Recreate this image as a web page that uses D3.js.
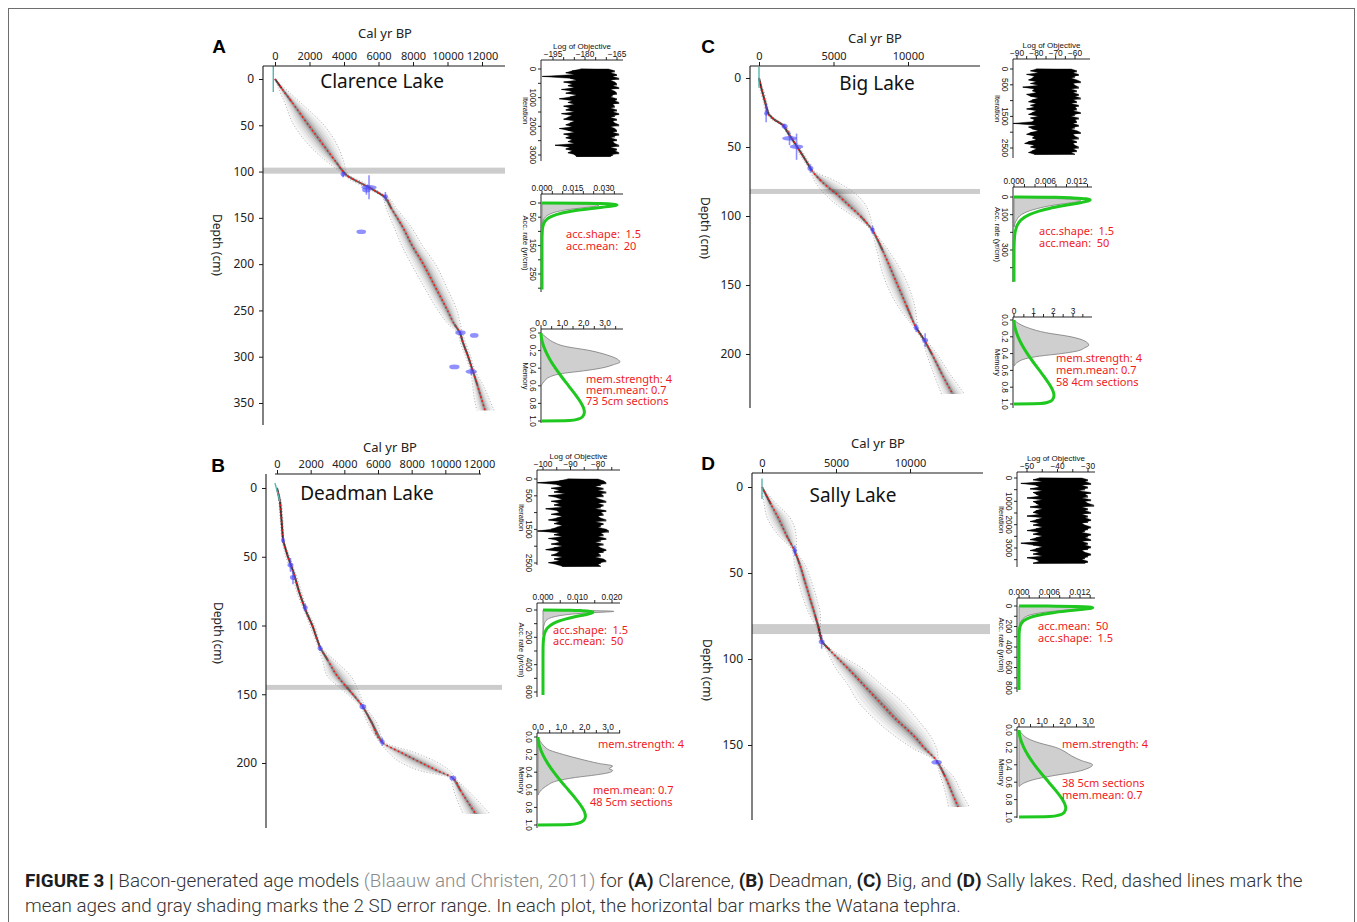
<!DOCTYPE html>
<html><head><meta charset="utf-8">
<script src="https://cdn.jsdelivr.net/npm/d3@7"></script>
<style>body{margin:0;background:#fff}svg{display:block}</style>
</head><body>
<script>
// ================= DATA =================
const lakeTitles = ["Clarence Lake","Deadman Lake","Big Lake","Sally Lake"];
const panelLetters = ["A","B","C","D"];

// --- age-depth models: depth (cm), mean age, 95% lower / upper (cal yr BP)
const depthA = [0,10,25,50,75,90,100,104,110,117,122,127,140,160,180,200,225,250,265,274,285,300,316,330,345,358];
const meanA  = [0,380,980,1950,2950,3550,3950,4150,4700,5450,5900,6350,6750,7400,7950,8600,9300,10000,10400,10720,10900,11200,11480,11720,11960,12180];
const loA    = [0,200,550,1100,2150,3050,3750,4000,4450,5250,5750,6200,6450,6900,7350,7900,8650,9450,10050,10580,10750,11050,11340,11450,11550,11700];
const hiA    = [0,580,1450,2850,3700,4000,4150,4300,4950,5650,6050,6500,7050,7900,8550,9300,9950,10550,10750,10870,11050,11350,11620,12050,12400,12700];

const depthB = [0,10,25,38,50,62,75,89,100,116,125,137,145,159,170,185,192,200,206,211,220,237];
const meanB  = [0,180,280,360,650,1000,1300,1700,2100,2560,3000,3600,4150,5100,5600,6250,7300,8600,9600,10450,10900,11800];
const loB    = [0,100,200,300,520,900,1150,1600,1950,2450,2700,3000,3700,4950,5350,6100,6600,7400,8600,10300,10500,11050];
const hiB    = [0,260,360,420,760,1100,1450,1800,2250,2650,3400,4400,4750,5250,5900,6400,8100,9600,10300,10600,11350,12650];

const depthC = [0,7,17,26,30,34,42,48,53,60,67,75,85,95,100,110,125,145,165,181,190,200,215,229];
const meanC  = [0,150,400,630,1000,1600,2080,2450,2750,3150,3540,4200,5300,6300,6800,7600,8300,9100,9900,10550,11100,11600,12300,13000];
const loC    = [0,50,280,520,850,1480,1950,2300,2600,3000,3420,3750,4500,5600,6300,7480,7900,8400,9300,10400,10950,11250,11750,12250];
const hiC    = [0,250,520,740,1150,1720,2200,2600,2900,3300,3660,5200,6600,7300,7450,7720,8700,9800,10450,10700,11250,11950,12850,13800];

const depthD = [0,10,18,28,37,45,55,65,75,81,90,95,105,115,125,135,145,152,159,168,178,186];
const meanD  = [0,600,1100,1650,2200,2550,2900,3250,3600,3800,4050,4600,5750,6850,7950,9050,10300,11000,11800,12350,12850,13250];
const loD    = [0,150,350,1100,2050,2200,2450,2800,3250,3650,3950,4350,4950,5800,6500,7600,9000,10200,11650,12050,12400,12600];
const hiD    = [0,1000,1900,2300,2350,2900,3350,3700,3950,3950,4150,4800,6700,8100,9500,10500,11400,11800,11950,12900,13500,14000];

// --- dated levels: depth, calibrated age, age spread, depth spread
const dateDepthA = [103,117,120,127,165,274,277,311,316];
const dateAgeA   = [3950,5450,5300,6400,5000,10750,11550,10400,11380];
const dateAgeErrA= [150,450,250,150,280,300,250,300,330];
const dateDepErrA= [3,13,5,5,0,2,0,0,4];

const dateDepthB = [38,56,65,87,116.6,159,184.5,211];
const dateAgeB   = [360,800,950,1680,2560,5100,6250,10450];
const dateAgeErrB= [100,180,180,150,150,200,150,200];
const dateDepErrB= [2,5,5,3,2,2,3,1];

const dateDepthC = [25.6,35,43.7,49.8,65.5,110,181,190];
const dateAgeC   = [480,1720,2050,2520,3450,7620,10550,11150];
const dateAgeErrC= [120,200,500,450,200,150,170,200];
const dateDepErrC= [6.5,2,5,9.5,3,3,3,5];

const dateDepthD = [37,90,160];
const dateAgeD   = [2220,4030,11800];
const dateAgeErrD= [150,200,350];
const dateDepErrD= [3,4,1];

// --- surface (core top) marks: ages and depths of the short cyan segment
const surfAgeA=[-100,-100], surfDepthA=[-14,14];
const surfAgeB=[-120,180],  surfDepthB=[-3.5,10];
const surfAgeC=[0,0],       surfDepthC=[-8,7];
const surfAgeD=[0,0],       surfDepthD=[-5,7];

// --- Watana tephra depth (cm) and thickness (cm)
const tephraDepth = [99,145,82.2,82.6];
const tephraThick = [6.5,3.6,3.6,5.8];

// --- axis ticks (main plots)
const ageTicksAB = [0,2000,4000,6000,8000,10000,12000];
const ageTicksCD = [0,5000,10000];
const depthTicksA = [0,50,100,150,200,250,300,350];
const depthTicksB = [0,50,100,150,200];
const depthTicksC = [0,50,100,150,200];
const depthTicksD = [0,50,100,150];

// --- MCMC traces: left/right envelope of log objective along the iterations
const traceLoA = [-182,-186,-189,-185,-200,-187,-184,-190,-186,-188,-185,-191,-186,-189,-184,-187,-192,-186,-188,-185,-190,-187,-189,-185,-191,-186,-188,-190,-185,-187,-189,-186,-192,-188,-185,-190,-187,-189,-186,-188,-185,-194,-187,-189,-186,-188,-185,-184];
const traceHiA = [-169,-166,-168,-165,-167,-164,-168,-166,-165,-167,-164,-168,-166,-165,-167,-168,-165,-166,-164,-167,-166,-168,-165,-167,-164,-166,-168,-165,-167,-166,-164,-168,-166,-165,-167,-164,-166,-168,-165,-167,-166,-164,-168,-165,-166,-164,-167,-168];
const traceLoB = [-91,-94,-102,-95,-93,-97,-94,-96,-92,-98,-95,-93,-97,-94,-96,-93,-99,-95,-94,-97,-93,-95,-98,-94,-96,-93,-95,-97,-102,-94,-96,-93,-98,-95,-94,-97,-93,-96,-99,-94,-95,-97,-93,-96,-94,-98,-95,-93];
const traceHiB = [-80,-78,-77,-79,-81,-78,-80,-77,-79,-78,-81,-79,-77,-80,-78,-79,-81,-77,-79,-78,-80,-79,-77,-81,-78,-79,-80,-77,-76,-79,-78,-80,-77,-79,-81,-78,-80,-79,-77,-78,-80,-79,-81,-78,-77,-79,-80,-79];
const traceLoC = [-80,-83,-79,-85,-81,-82,-84,-80,-83,-79,-87,-81,-82,-80,-85,-83,-79,-82,-84,-80,-83,-81,-85,-80,-82,-84,-79,-83,-81,-82,-92,-80,-84,-82,-79,-83,-85,-81,-82,-80,-84,-86,-81,-83,-80,-82,-84,-81];
const traceHiC = [-62,-59,-61,-58,-60,-62,-59,-57,-61,-60,-58,-62,-59,-61,-58,-60,-57,-61,-59,-62,-58,-60,-59,-61,-57,-60,-62,-58,-60,-59,-61,-58,-60,-62,-59,-57,-61,-60,-58,-62,-59,-61,-60,-58,-61,-59,-62,-60];
const traceLoD = [-46,-48,-45,-52,-47,-46,-49,-45,-48,-47,-46,-50,-45,-48,-47,-46,-49,-45,-47,-48,-46,-50,-45,-47,-49,-46,-48,-45,-47,-50,-46,-48,-45,-47,-49,-46,-52,-48,-45,-47,-49,-46,-48,-45,-50,-47,-46,-48];
const traceHiD = [-32,-30,-31,-29,-32,-30,-31,-33,-29,-31,-30,-32,-29,-31,-30,-28,-32,-30,-31,-29,-32,-30,-31,-29,-30,-32,-31,-29,-30,-31,-32,-29,-30,-31,-29,-32,-30,-31,-29,-30,-32,-31,-29,-30,-31,-32,-30,-31];
const traceIterMax = [3050,2600,2700,3650];

// --- accumulation-rate prior (green) and posterior (grey)
const accPriorY20 = [0,1,2,4,6.67,10,15,20,25,30,40,50,60,70,85,100,130,160,200,250,305];
const accPriorD20 = [0,0.0215,0.0282,0.0343,0.0363,0.0346,0.0291,0.0231,0.0178,0.0134,0.0073,0.00385,0.0020,0.00102,0.00036,0.00013,0.00001,0,0,0,0];
const accPriorY50 = [0,1,2,5,10,16.67,25,35,50,65,80,100,130,160,200,250,300,400,480,622,820];
const accPriorD50 = [0,0.00569,0.00781,0.01128,0.01373,0.01451,0.01384,0.01213,0.00925,0.00672,0.00476,0.00292,0.00135,0.00061,0.00021,0.00005,0.00001,0,0,0,0];
const accPostYA = [0,2,4,7,10,15,20,25,30,40,50,60,75,90];
const accPostDA = [0,0.012,0.021,0.0275,0.027,0.022,0.016,0.011,0.0075,0.0035,0.0016,0.0007,0.0002,0];
const accPostYB = [0,3,6,10,15,20,30,40,50,70,100,140,180];
const accPostDB = [0,0.009,0.017,0.0205,0.018,0.014,0.0085,0.0052,0.0032,0.0012,0.0004,0.0001,0];
const accPostYC = [0,5,10,15,20,30,40,50,65,80,100,130,170];
const accPostDC = [0,0.0045,0.009,0.0118,0.0127,0.0115,0.009,0.0068,0.0045,0.0028,0.0014,0.0005,0];
const accPostYD = [0,5,10,15,20,30,40,60,80,100,150,200,260];
const accPostDD = [0,0.006,0.0105,0.0128,0.0133,0.0118,0.0092,0.0052,0.0028,0.0015,0.0004,0.0001,0];

// --- memory prior (green) and posteriors (grey)
const memPriorY = [0,0.05,0.1,0.2,0.3,0.4,0.5,0.6,0.7,0.8,0.85,0.9,0.95,0.98,0.995,1.0];
const memPriorD = [0,0.0176,0.0604,0.206,0.4155,0.676,0.974,1.294,1.612,1.890,1.991,2.034,1.952,1.719,1.339,0];
const memPostYA = [0,0.05,0.1,0.15,0.2,0.25,0.3,0.33,0.36,0.4,0.43,0.46,0.5,0.55,0.6];
const memPostDA = [0,0.25,0.55,1.1,2.3,3.1,3.6,3.7,3.4,2.8,2.0,1.0,0.4,0.15,0];
const memPostYB = [0,0.05,0.1,0.15,0.2,0.25,0.3,0.33,0.36,0.38,0.4,0.43,0.46,0.5,0.55,0.6,0.66];
const memPostDB = [0,0.1,0.25,0.5,1.1,1.8,2.6,3.2,3.05,3.2,3.1,2.5,1.6,0.8,0.4,0.15,0];
const memPostYC = [0,0.05,0.1,0.15,0.2,0.25,0.3,0.33,0.37,0.4,0.43,0.46,0.5,0.55];
const memPostDC = [0,0.3,0.8,1.6,2.9,3.6,3.8,3.6,3.2,2.4,1.3,0.6,0.2,0];
const memPostYD = [0,0.05,0.1,0.15,0.2,0.25,0.3,0.35,0.4,0.44,0.48,0.52,0.56,0.6,0.65];
const memPostDD = [0,0.15,0.4,0.9,1.6,2.0,2.3,2.7,3.2,3.0,2.5,1.6,0.8,0.3,0];

// --- side-plot ticks and labels
const traceXTicksA=[-195,-190,-185,-180,-175,-170,-165], traceXLabelsA=[-195,-180,-165];
const traceXTicksB=[-100,-95,-90,-85,-80,-75],          traceXLabelsB=[-100,-90,-80];
const traceXTicksC=[-90,-85,-80,-75,-70,-65,-60],        traceXLabelsC=[-90,-80,-70,-60];
const traceXTicksD=[-50,-45,-40,-35,-30],                traceXLabelsD=[-50,-40,-30];
const iterTicksA=[0,500,1000,1500,2000,2500,3000], iterLabelsA=[0,1000,2000,3000];
const iterTicksB=[0,500,1000,1500,2000,2500],      iterLabelsB=[0,500,1500,2500];
const iterTicksC=[0,500,1000,1500,2000,2500],      iterLabelsC=[0,500,1500,2500];
const iterTicksD=[0,500,1000,1500,2000,2500,3000,3500], iterLabelsD=[0,1000,2000,3000];
const accXTicksA=[0,0.005,0.01,0.015,0.02,0.025,0.03,0.035], accXLabelsA=[0,0.015,0.03];
const accXTicksB=[0,0.005,0.01,0.015,0.02],                  accXLabelsB=[0,0.01,0.02];
const accXTicksC=[0,0.002,0.004,0.006,0.008,0.01,0.012,0.014], accXLabelsC=[0,0.006,0.012];
const accXTicksD=[0,0.002,0.004,0.006,0.008,0.01,0.012,0.014], accXLabelsD=[0,0.006,0.012];
const accYTicksA=[0,50,100,150,200,250,300], accYLabelsA=[0,50,150,250];
const accYTicksB=[0,100,200,300,400,500,600], accYLabelsB=[0,200,400,600];
const accYTicksC=[0,100,200,300,400], accYLabelsC=[0,100,300];
const accYTicksD=[0,100,200,300,400,500,600,700,800], accYLabelsD=[0,200,400,600,800];
const memXTicks=[0,0.5,1,1.5,2,2.5,3,3.5], memXTicksD=[0,0.5,1,1.5,2,2.5,3], memXLabels=[0,1,2,3];
const memYTicks=[0,0.2,0.4,0.6,0.8,1.0];

// --- annotation texts
const accTextA=["acc.shape:  1.5","acc.mean:  20"];
const accTextB=["acc.shape:  1.5","acc.mean:  50"];
const accTextC=["acc.shape:  1.5","acc.mean:  50"];
const accTextD=["acc.mean:  50","acc.shape:  1.5"];
const memTextA=["mem.strength: 4","mem.mean: 0.7","73 5cm sections"];
const memTextB=["mem.strength: 4","mem.mean: 0.7","48 5cm sections"];
const memTextC=["mem.strength: 4","mem.mean: 0.7","58 4cm sections"];
const memTextD=["mem.strength: 4","38 5cm sections","mem.mean: 0.7"];

// ================= DRAWING =================
const svg = d3.select('body').append('svg').attr('width',1357).attr('height',922);
svg.append('rect').attr('width',1357).attr('height',922).attr('fill','#fff');
svg.append('rect').attr('x',8.5).attr('y',8.5).attr('width',1346).attr('height',940)
  .attr('fill','none').attr('stroke','#6e6e6e').attr('stroke-width',1);

const FONT = "'Noto Sans', 'Open Sans', sans-serif";
const SFONT = "'Liberation Sans', Arial, sans-serif";
const RED = '#f01c1c', GREEN = '#1ec81e', BLUE = '#4646ff';

const mains = [
 {i:0, letterXY:[219,46], titleXY:[382,81], calXY:[385,33], ylabXY:[217,245],
  xd:[0,12000], xr:[275,482], yd:[0,350], yr:[79,403], box:{l:263,t:66,b:425}, topLine:[263,505], tephraR:505,
  xTicks:ageTicksAB, yTicks:depthTicksA, depth:depthA, mean:meanA, lo:loA, hi:hiA,
  dd:dateDepthA, da:dateAgeA, dae:dateAgeErrA, dde:dateDepErrA, sa:surfAgeA, sd:surfDepthA},
 {i:1, letterXY:[218,465], titleXY:[367,493], calXY:[390,447], ylabXY:[218,633],
  xd:[0,12000], xr:[277,479], yd:[0,200], yr:[488,763], box:{l:266,t:474,b:828}, topLine:[275,481], tephraR:502,
  xTicks:ageTicksAB, yTicks:depthTicksB, depth:depthB, mean:meanB, lo:loB, hi:hiB,
  dd:dateDepthB, da:dateAgeB, dae:dateAgeErrB, dde:dateDepErrB, sa:surfAgeB, sd:surfDepthB},
 {i:2, letterXY:[708,46], titleXY:[877,83], calXY:[875,38], ylabXY:[705,228],
  xd:[0,10000], xr:[759,908], yd:[0,200], yr:[78,354], box:{l:750,t:66,b:408}, topLine:[750,980], tephraR:980,
  xTicks:ageTicksCD, yTicks:depthTicksC, depth:depthC, mean:meanC, lo:loC, hi:hiC,
  dd:dateDepthC, da:dateAgeC, dae:dateAgeErrC, dde:dateDepErrC, sa:surfAgeC, sd:surfDepthC},
 {i:3, letterXY:[708,463], titleXY:[853,495], calXY:[878,443], ylabXY:[707,670],
  xd:[0,10000], xr:[762,910], yd:[0,150], yr:[487,745], box:{l:752,t:473,b:820}, topLine:[752,983], tephraR:990,
  xTicks:ageTicksCD, yTicks:depthTicksD, depth:depthD, mean:meanD, lo:loD, hi:hiD,
  dd:dateDepthD, da:dateAgeD, dae:dateAgeErrD, dde:dateDepErrD, sa:surfAgeD, sd:surfDepthD}
];

function drawMain(L){
  const g = svg.append('g');
  const x = d3.scaleLinear().domain(L.xd).range(L.xr);
  const y = d3.scaleLinear().domain(L.yd).range(L.yr);
  const th = y(tephraThick[L.i]) - y(0);
  g.append('rect').attr('x',L.box.l).attr('y',y(tephraDepth[L.i])-th/2)
    .attr('width',L.tephraR-L.box.l).attr('height',th).attr('fill','#cccccc');
  const D = L.depth.map((d,k)=>({d, m:L.mean[k], lo:L.lo[k], hi:L.hi[k]}));
  const fr=[1,0.8,0.6,0.42,0.26,0.12], op=[0.035,0.045,0.06,0.08,0.12,0.2];
  fr.forEach((f,k)=>{
    g.append('path').datum(D)
      .attr('d', d3.area().curve(d3.curveMonotoneY).y(p=>y(p.d))
        .x0(p=>x(p.m - f*(p.m-p.lo))).x1(p=>x(p.m + f*(p.hi-p.m))))
      .attr('fill','#000').attr('fill-opacity',op[k]);
  });
  ['lo','hi'].forEach(k=>{
    g.append('path').datum(D)
      .attr('d', d3.line().curve(d3.curveMonotoneY).x(p=>x(p[k])).y(p=>y(p.d)))
      .attr('fill','none').attr('stroke','#8c8c8c').attr('stroke-width',0.7).attr('stroke-dasharray','1,2');
  });
  for(let k=0;k<D.length-1;k++){
    const w = ((x(D[k].hi)-x(D[k].lo))+(x(D[k+1].hi)-x(D[k+1].lo)))/2;
    const o = Math.max(0, 0.95 - w/16);
    if(o>0) g.append('line').attr('x1',x(D[k].m)).attr('y1',y(D[k].d)).attr('x2',x(D[k+1].m)).attr('y2',y(D[k+1].d))
      .attr('stroke','#111').attr('stroke-width',2).attr('stroke-opacity',o);
  }
  g.append('path').datum(D)
    .attr('d', d3.line().curve(d3.curveMonotoneY).x(p=>x(p.m)).y(p=>y(p.d)))
    .attr('fill','none').attr('stroke',RED).attr('stroke-width',1.7).attr('stroke-dasharray','1.6,2.6');
  g.append('line').attr('x1',x(L.sa[0])).attr('y1',y(L.sd[0])).attr('x2',x(L.sa[1])).attr('y2',y(L.sd[1]))
    .attr('stroke','#55b5b0').attr('stroke-width',1.4);
  L.dd.forEach((d,k)=>{
    const rx = Math.max(2, x(L.da[k]+L.dae[k]) - x(L.da[k]));
    g.append('ellipse').attr('cx',x(L.da[k])).attr('cy',y(d)).attr('rx',rx).attr('ry',2.3)
      .attr('fill',BLUE).attr('fill-opacity',0.6);
    if(L.dde[k]>0) g.append('line').attr('x1',x(L.da[k])).attr('x2',x(L.da[k]))
      .attr('y1',y(d-L.dde[k])).attr('y2',y(d+L.dde[k]))
      .attr('stroke',BLUE).attr('stroke-width',1.6).attr('stroke-opacity',0.6);
  });
  g.append('line').attr('x1',L.topLine[0]).attr('x2',L.topLine[1]).attr('y1',L.box.t).attr('y2',L.box.t)
    .attr('stroke','#1a1a1a').attr('stroke-width',1.1);
  g.append('line').attr('x1',L.box.l).attr('x2',L.box.l).attr('y1',L.box.t).attr('y2',L.box.b)
    .attr('stroke','#1a1a1a').attr('stroke-width',1.1);
  const ax = g.append('g').attr('transform',`translate(0,${L.box.t})`)
    .call(d3.axisTop(x).tickValues(L.xTicks).tickSize(4).tickPadding(2).tickFormat(d3.format('d')));
  ax.select('.domain').remove();
  ax.attr('font-family',FONT).attr('font-size',11);
  ax.selectAll('text').attr('fill','#222');
  ax.selectAll('line').attr('stroke','#1a1a1a');
  const ay = g.append('g').attr('transform',`translate(${L.box.l},0)`)
    .call(d3.axisLeft(y).tickValues(L.yTicks).tickSize(4).tickPadding(5).tickFormat(d3.format('d')));
  ay.select('.domain').remove();
  ay.attr('font-family',FONT).attr('font-size',12);
  ay.selectAll('text').attr('fill','#222');
  ay.selectAll('line').attr('stroke','#1a1a1a');
  g.append('text').attr('x',L.calXY[0]).attr('y',L.calXY[1]).attr('text-anchor','middle')
    .attr('dominant-baseline','central').attr('font-family',FONT).attr('font-size',13).attr('fill','#222').text('Cal yr BP');
  g.append('text').attr('x',L.titleXY[0]).attr('y',L.titleXY[1]).attr('text-anchor','middle')
    .attr('dominant-baseline','central').attr('font-family',FONT).attr('font-size',19).attr('fill','#111').text(lakeTitles[L.i]);
  g.append('text').attr('transform',`translate(${L.ylabXY[0]},${L.ylabXY[1]}) rotate(90)`).attr('text-anchor','middle')
    .attr('dominant-baseline','central').attr('font-family',FONT).attr('font-size',12).attr('fill','#222').text('Depth (cm)');
  g.append('text').attr('x',L.letterXY[0]).attr('y',L.letterXY[1]).attr('text-anchor','middle')
    .attr('dominant-baseline','central').attr('font-family',"'Liberation Sans', Arial, sans-serif")
    .attr('font-weight','bold').attr('font-size',19).attr('fill','#000').text(panelLetters[L.i]);
}
mains.forEach(drawMain);

// ---------- side plots ----------
function sideFrame(S, fmtX, fmtY, ylab, title){
  const g = svg.append('g');
  const x = d3.scaleLinear().domain(S.xd).range(S.xr);
  const y = d3.scaleLinear().domain(S.yd).range(S.yr);
  g.append('line').attr('x1',S.l).attr('x2',S.r).attr('y1',S.t).attr('y2',S.t).attr('stroke','#111').attr('stroke-width',0.9);
  g.append('line').attr('x1',S.l).attr('x2',S.l).attr('y1',S.t).attr('y2',S.b).attr('stroke','#111').attr('stroke-width',0.9);
  S.xTicks.forEach(v=>g.append('line').attr('x1',x(v)).attr('x2',x(v)).attr('y1',S.t).attr('y2',S.t-3).attr('stroke','#111').attr('stroke-width',0.9));
  S.xLabels.forEach(v=>g.append('text').attr('x',x(v)).attr('y',S.t-3.5).attr('text-anchor','middle')
    .attr('font-family',SFONT).attr('font-size',8.3).attr('fill','#111').text(fmtX(v)));
  S.yTicks.forEach(v=>g.append('line').attr('y1',y(v)).attr('y2',y(v)).attr('x1',S.l).attr('x2',S.l-3).attr('stroke','#111').attr('stroke-width',0.9));
  S.yLabels.forEach(v=>g.append('text').attr('transform',`translate(${S.l-8},${y(v)}) rotate(90)`).attr('text-anchor','middle')
    .attr('dominant-baseline','central').attr('font-family',SFONT).attr('font-size',8.3).attr('fill','#111').text(fmtY(v)));
  g.append('text').attr('transform',`translate(${S.l-16},${(S.t+S.b)/2}) rotate(90)`).attr('text-anchor','middle')
    .attr('dominant-baseline','central').attr('font-family',SFONT).attr('font-size',7.5).attr('fill','#111').text(ylab);
  if(title) g.append('text').attr('x',(S.l+S.r)/2).attr('y',S.t-11.5).attr('text-anchor','middle')
    .attr('font-family',SFONT).attr('font-size',8).attr('fill','#111').text(title);
  return {g,x,y};
}
const minus = v => (v<0?'\u2212':'')+Math.abs(v);
const f3 = d3.format('.3f'), f1 = d3.format('.1f'), fi = d3.format('d');

function redText(g, lines, x0, y0, lh){
  lines.forEach((t,k)=>g.append('text').attr('x',x0).attr('y',y0+k*lh).attr('dominant-baseline','central')
    .attr('font-family',FONT).attr('font-size',11).attr('fill',RED).style('white-space','pre').text(t));
}

const sides = [
 {trace:{xd:[-195,-165],xr:[553,617],yd:[0,3000],yr:[69,155],l:541,t:60,r:623,b:161,xTicks:traceXTicksA,xLabels:traceXLabelsA,yTicks:iterTicksA,yLabels:iterLabelsA,lo:traceLoA,hi:traceHiA,n:0},
  acc:{xd:[0,0.03],xr:[542,604],yd:[0,250],yr:[203,274],l:541,t:194,r:623,b:292,xTicks:accXTicksA,xLabels:accXLabelsA,yTicks:accYTicksA,yLabels:accYLabelsA,
       py:accPriorY20,pd:accPriorD20,qy:accPostYA,qd:accPostDA,yEnd:305,txt:accTextA,txy:[566,233],lh:12.5},
  mem:{xd:[0,3],xr:[541,605],yd:[0,1],yr:[333,421],l:541,t:329,r:623,b:423,xTicks:memXTicks,xLabels:memXLabels,yTicks:memYTicks,yLabels:memYTicks,
       qy:memPostYA,qd:memPostDA,txt:memTextA,txy:[586,378],lh:11.3,fx:f1}},
 {trace:{xd:[-100,-80],xr:[543,598],yd:[0,2500],yr:[479,563],l:537,t:470,r:620,b:565,xTicks:traceXTicksB,xLabels:traceXLabelsB,yTicks:iterTicksB,yLabels:iterLabelsB,lo:traceLoB,hi:traceHiB,n:1},
  acc:{xd:[0,0.02],xr:[543,612],yd:[0,600],yr:[610,692],l:537,t:603,r:620,b:697,xTicks:accXTicksB,xLabels:accXLabelsB,yTicks:accYTicksB,yLabels:accYLabelsB,
       py:accPriorY50,pd:accPriorD50,qy:accPostYB,qd:accPostDB,yEnd:622,txt:accTextB,txy:[553,629],lh:11.5},
  mem:{xd:[0,3],xr:[538,608],yd:[0,1],yr:[737,825],l:537,t:733,r:620,b:828,xTicks:memXTicks,xLabels:memXLabels,yTicks:memYTicks,yLabels:memYTicks,
       qy:memPostYB,qd:memPostDB,txt:memTextB,txy:[[598,743],[593,789],[590,801]],fx:f1}},
 {trace:{xd:[-90,-60],xr:[1017,1075],yd:[0,2500],yr:[69,148],l:1013,t:59,r:1090,b:158,xTicks:traceXTicksC,xLabels:traceXLabelsC,yTicks:iterTicksC,yLabels:iterLabelsC,lo:traceLoC,hi:traceHiC,n:2},
  acc:{xd:[0,0.012],xr:[1014,1077],yd:[0,300],yr:[197,250],l:1013,t:187,r:1092,b:282,xTicks:accXTicksC,xLabels:accXLabelsC,yTicks:accYTicksC,yLabels:accYLabelsC,
       py:accPriorY50,pd:accPriorD50,qy:accPostYC,qd:accPostDC,yEnd:480,txt:accTextC,txy:[1039,230],lh:12},
  mem:{xd:[0,3],xr:[1014,1073],yd:[0,1],yr:[320,404],l:1013,t:317,r:1092,b:408,xTicks:memXTicks,xLabels:memXLabels,yTicks:memYTicks,yLabels:memYTicks,
       qy:memPostYC,qd:memPostDC,txt:memTextC,txy:[1056,357],lh:12,fx:fi}},
 {trace:{xd:[-50,-30],xr:[1027,1088],yd:[0,3000],yr:[478,548],l:1017,t:472,r:1095,b:567,xTicks:traceXTicksD,xLabels:traceXLabelsD,yTicks:iterTicksD,yLabels:iterLabelsD,lo:traceLoD,hi:traceHiD,n:3},
  acc:{xd:[0,0.012],xr:[1019,1080],yd:[0,800],yr:[606,688],l:1017,t:598,r:1095,b:692,xTicks:accXTicksD,xLabels:accXLabelsD,yTicks:accYTicksD,yLabels:accYLabelsD,
       py:accPriorY50,pd:accPriorD50,qy:accPostYD,qd:accPostDD,yEnd:820,txt:accTextD,txy:[1038,625],lh:12},
  mem:{xd:[0,3],xr:[1019,1088],yd:[0,1],yr:[730,817],l:1017,t:727,r:1095,b:818,xTicks:memXTicksD,xLabels:memXLabels,yTicks:memYTicks,yLabels:memYTicks,
       qy:memPostYD,qd:memPostDD,txt:memTextD,txy:[[1062,743],[1062,782],[1062,794]],fx:f1}}
];

sides.forEach(P=>{
  const T = P.trace;
  const ft = sideFrame(T, minus, fi, 'Iteration', 'Log of Objective');
  const n = T.lo.length, maxIt = traceIterMax[T.n];
  const its = T.lo.map((_,k)=>k*maxIt/(n-1));
  const pts = T.lo.map((v,k)=>[ft.x(v), ft.y(its[k])]).concat(T.hi.map((v,k)=>[ft.x(v), ft.y(its[k])]).reverse());
  ft.g.append('path').attr('d', d3.line()(pts)+'Z').attr('fill','#000').attr('stroke','#000').attr('stroke-width',0.4);
  // zig-zag trace lines across the band for texture
  const zz = [];
  T.lo.forEach((v,k)=>{ zz.push([ft.x(v), ft.y(its[k])]); zz.push([ft.x(T.hi[k]), ft.y(its[k]) + (k<n-1 ? (ft.y(its[k+1])-ft.y(its[k]))/2 : 0)]); });
  ft.g.append('path').attr('d', d3.line()(zz)).attr('fill','none').attr('stroke','#000').attr('stroke-width',0.6);

  const A = P.acc;
  const fa = sideFrame(A, f3, fi, 'Acc. rate (yr/cm)', null);
  const post = A.qy.map((v,k)=>({y:v, d:A.qd[k]}));
  fa.g.append('path').datum(post).attr('d', d3.area().curve(d3.curveMonotoneY).y(p=>fa.y(p.y)).x0(fa.x(0)).x1(p=>fa.x(p.d)))
    .attr('fill','#cfcfcf').attr('stroke','#7a7a7a').attr('stroke-width',0.8);
  const prior = A.py.map((v,k)=>({y:v, d:A.pd[k]})).filter(p=>p.y<=A.yEnd);
  fa.g.append('path').datum(prior).attr('d', d3.line().curve(d3.curveMonotoneY).y(p=>fa.y(p.y)).x(p=>fa.x(p.d)))
    .attr('fill','none').attr('stroke',GREEN).attr('stroke-width',3);
  redText(fa.g, A.txt, A.txy[0], A.txy[1], A.lh);

  const M = P.mem;
  const fm = sideFrame(M, M.fx, f1, 'Memory', null);
  const mp = M.qy.map((v,k)=>({y:v, d:M.qd[k]}));
  fm.g.append('path').datum(mp).attr('d', d3.area().curve(d3.curveMonotoneY).y(p=>fm.y(p.y)).x0(fm.x(0)).x1(p=>fm.x(p.d)))
    .attr('fill','#cfcfcf').attr('stroke','#7a7a7a').attr('stroke-width',0.8);
  const mpr = memPriorY.map((v,k)=>({y:v, d:memPriorD[k]}));
  fm.g.append('path').datum(mpr).attr('d', d3.line().curve(d3.curveMonotoneY).y(p=>fm.y(p.y)).x(p=>fm.x(p.d)))
    .attr('fill','none').attr('stroke',GREEN).attr('stroke-width',3);
  if(Array.isArray(M.txy[0])) M.txt.forEach((t,k)=>redText(fm.g,[t],M.txy[k][0],M.txy[k][1],0));
  else redText(fm.g, M.txt, M.txy[0], M.txy[1], M.lh);
});

// ---------- caption ----------
const capLines = [
 [["FIGURE 3 | ","b"],["Bacon-generated age models ","n"],["(Blaauw and Christen, 2011)","g"],[" for ","n"],["(A)","b"],[" Clarence, ","n"],
  ["(B)","b"],[" Deadman, ","n"],["(C)","b"],[" Big, and ","n"],["(D)","b"],[" Sally lakes. Red, dashed lines mark the","n"]],
 [["mean ages and gray shading marks the 2 SD error range. In each plot, the horizontal bar marks the Watana tephra.","n"]]
];
const capNodes = capLines.map((segs,li)=>{
  const t = svg.append('text').attr('x',25).attr('y',887+li*25).attr('font-family',"Roboto, 'Liberation Sans', Arial, sans-serif")
    .attr('font-weight',300).attr('font-size',17).attr('fill','#333').style('white-space','pre');
  segs.forEach(([s,k])=>{
    const ts = t.append('tspan').text(s);
    if(k==='b') ts.attr('font-weight','bold').attr('fill','#1e1e1e');
    if(k==='g') ts.attr('fill','#8a8a8a');
  });
  return t;
});
const len = capNodes[0].node().getComputedTextLength();
const fs = 17*1278/len;
capNodes.forEach(t=>t.attr('font-size',fs));
</script>
</body></html>
